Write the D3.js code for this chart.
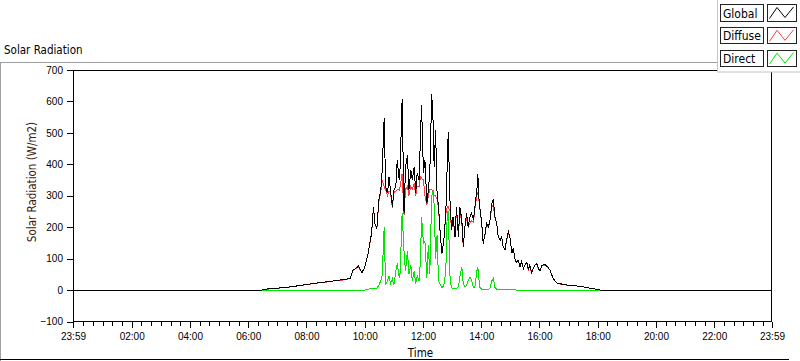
<!DOCTYPE html>
<html><head><meta charset="utf-8">
<script src="https://cdn.jsdelivr.net/npm/d3@7/dist/d3.min.js"></script>
<style>
body{margin:0;background:#fff;}
svg{display:block;font-family:"DejaVu Sans Condensed","DejaVu Sans",sans-serif;font-stretch:condensed;}
</style></head><body>
<svg id="chart" width="800" height="361"></svg>
<script>
// minutes after midnight (axis runs 23:59 -> 23:59)
const times = [-1,388,392,400,420,440,460,480,500,520,540,555,566,570,576,580,587,594,600,607,614,618,621,625,629,633,636,640,643,647,650,653,657,660,664,667,671,673,677,681,684,688,691,695,698,702,705,708,712,715,717,721,724,728,731,734,738,741,743,746,749,752,756,759,763,767,770,772,776,779,782,786,789,793,796,800,803,807,810,813,817,820,824,827,831,833,835,837,841,844,848,851,855,858,862,865,868,872,875,879,882,885,889,892,896,899,903,906,910,913,916,920,923,927,930,934,937,940,944,947,951,954,958,961,965,971,978,982,988,995,1006,1016,1026,1037,1047,1057,1068,1078,1085,1439];
const globalVals = [0,0,1,4,6,9,13,18,22,26,30,33,36,38,64,67,76,55,72,117,180,265,212,196,286,318,382,546,329,308,360,318,265,318,329,414,350,392,607,244,392,430,318,382,350,392,308,371,350,498,589,371,414,276,318,371,624,530,392,509,308,265,170,117,159,244,403,504,265,191,233,170,265,170,265,223,138,212,244,201,233,244,223,265,318,368,297,265,212,148,180,212,201,223,276,289,233,212,170,159,170,138,127,159,186,170,117,133,95,87,95,74,90,69,80,87,64,80,53,70,80,85,68,60,78,82,72,62,37,23,19,16,15,13,11,8,5,2,0,0];
const diffuseVals = [0,0,1,3,6,8,13,17,22,25,30,32,35,38,62,67,75,55,72,117,178,262,210,194,280,312,350,330,318,300,315,310,262,310,315,320,318,330,370,240,320,330,300,330,320,340,300,330,330,360,355,350,300,270,300,320,320,310,300,300,290,260,168,116,157,240,265,265,250,190,230,170,255,170,250,215,138,210,230,200,215,220,215,260,300,310,290,262,210,148,178,210,200,222,265,270,230,212,170,158,170,138,127,158,180,170,117,132,95,87,94,74,88,69,80,85,64,79,53,70,80,83,68,60,77,80,72,62,37,23,18,16,14,13,11,8,5,2,0,0];
const directVals = [0,0,0,0,0,0,0,0,0,0,0,0,0,0,0,0,0,0,0,3,5,5,5,6,15,30,48,200,16,30,45,20,35,15,60,85,40,55,244,122,60,125,50,80,30,60,20,45,30,100,233,150,154,40,143,50,300,318,270,100,175,30,15,8,15,60,249,249,30,8,5,3,5,10,42,74,20,10,15,30,42,30,8,10,60,74,40,8,3,3,2,2,3,5,30,38,8,3,2,2,1,1,1,1,1,1,1,1,1,0,0,0,0,0,0,0,0,0,0,0,0,0,0,0,0,0,0,0,0,0,0,0,0,0,0,0,0,0,0,0];

const yTicks = [-100,0,100,200,300,400,500,600,700];
const xTickTimes = [-1,120,240,360,480,600,720,840,960,1080,1200,1320,1439];
const xTickLabels = ["23:59","02:00","04:00","06:00","08:00","10:00","12:00","14:00","16:00","18:00","20:00","22:00","23:59"];
const seriesNames = ["Global","Diffuse","Direct"];
const seriesColors = ["#000000","#ff3b3b","#00e600"];

const svg = d3.select("#chart");
const L = 73, R = 772, T = 70, B = 321.5;
const x = d3.scaleLinear().domain([-1,1439]).range([L,R]);
const y = d3.scaleLinear().domain([-100,700]).range([B,T]);

// outer frame
svg.append("line").attr("x1",0).attr("x2",800).attr("y1",62.5).attr("y2",62.5).attr("stroke","#a0a0a0");
svg.append("line").attr("x1",0.5).attr("x2",0.5).attr("y1",62).attr("y2",361).attr("stroke","#a0a0a0");
svg.append("line").attr("x1",0).attr("x2",789).attr("y1",359.5).attr("y2",359.5).attr("stroke","#000");

svg.append("text").attr("x",4).attr("y",54).attr("font-size",11.5).attr("fill","#000").text("Solar Radiation");

// plot frame
svg.append("rect").attr("x",L+0.5).attr("y",T+0.5).attr("width",R-L-1).attr("height",B-T-0.5)
  .attr("fill","#fff").attr("stroke","#000").attr("shape-rendering","crispEdges");

// series: draw order direct, diffuse, global
const data = times.map((t,i)=>({t, g:globalVals[i], d:diffuseVals[i], r:directVals[i]}));
const keys = ["r","d","g"];
const colorIdx = {g:0,d:1,r:2};
keys.forEach(k=>{
  const line = d3.line().x(p=>x(p.t)).y(p=>y(p[k]));
  svg.append("path").datum(data).attr("d",line).attr("fill","none")
    .attr("stroke",seriesColors[colorIdx[k]]).attr("stroke-width",1)
    .attr("shape-rendering","crispEdges");
});

// y axis
const yAxis = svg.append("g").attr("transform",`translate(${L},0)`)
  .call(d3.axisLeft(y).tickValues(yTicks).tickSize(6).tickPadding(4).tickFormat(d3.format("d")));
yAxis.select(".domain").remove();
yAxis.selectAll("line").attr("stroke","#000").attr("shape-rendering","crispEdges");
yAxis.selectAll("text").attr("font-size",10).attr("fill","#000").attr("font-family",null);

// x axis
const minor = d3.range(0,1440,20).filter(m=>m%120!==0 || m===0);
const xMinor = svg.append("g").attr("transform",`translate(0,${B})`)
  .call(d3.axisBottom(x).tickValues(minor).tickSize(4).tickFormat(""));
xMinor.select(".domain").remove();
xMinor.selectAll("line").attr("stroke","#000").attr("shape-rendering","crispEdges");
const xAxis = svg.append("g").attr("transform",`translate(0,${B})`)
  .call(d3.axisBottom(x).tickValues(xTickTimes).tickSize(6).tickPadding(5).tickFormat((d,i)=>xTickLabels[i]));
xAxis.select(".domain").remove();
xAxis.selectAll("line").attr("stroke","#000").attr("shape-rendering","crispEdges");
xAxis.selectAll("text").attr("font-size",10).attr("fill","#000").attr("font-family",null);

// axis titles
svg.append("text").attr("x",(L+R)/2-2).attr("y",357).attr("text-anchor","middle")
  .attr("font-size",11.5).attr("fill","#000").text("Time");
svg.append("text").attr("transform","translate(36,182) rotate(-90)").attr("text-anchor","middle")
  .attr("font-size",11.5).attr("fill","#3a1a10").text("Solar Radiation (W/m2)");

// legend
const lg = svg.append("g");
lg.append("rect").attr("x",717.5).attr("y",-1).attr("width",90).attr("height",73)
  .attr("fill","#fff").attr("stroke","#c4c4c4");
seriesNames.forEach((name,i)=>{
  const by = 4.5 + i*22.8;
  lg.append("rect").attr("x",720.5).attr("y",by).attr("width",43).attr("height",16.5)
    .attr("fill","#fff").attr("stroke","#222").attr("shape-rendering","crispEdges");
  lg.append("text").attr("x",723).attr("y",by+13).attr("font-size",12).attr("fill","#000").text(name);
  lg.append("rect").attr("x",767.5).attr("y",by).attr("width",29).attr("height",16.5)
    .attr("fill","#fff").attr("stroke","#222").attr("shape-rendering","crispEdges");
  const pts = [[769.5,by+14],[777,by+3],[785,by+13],[793.5,by+2.5]];
  lg.append("polyline").attr("points",pts.map(p=>p.join(",")).join(" "))
    .attr("fill","none").attr("stroke",seriesColors[i]).attr("stroke-width",1);
});
</script>
</body></html>
